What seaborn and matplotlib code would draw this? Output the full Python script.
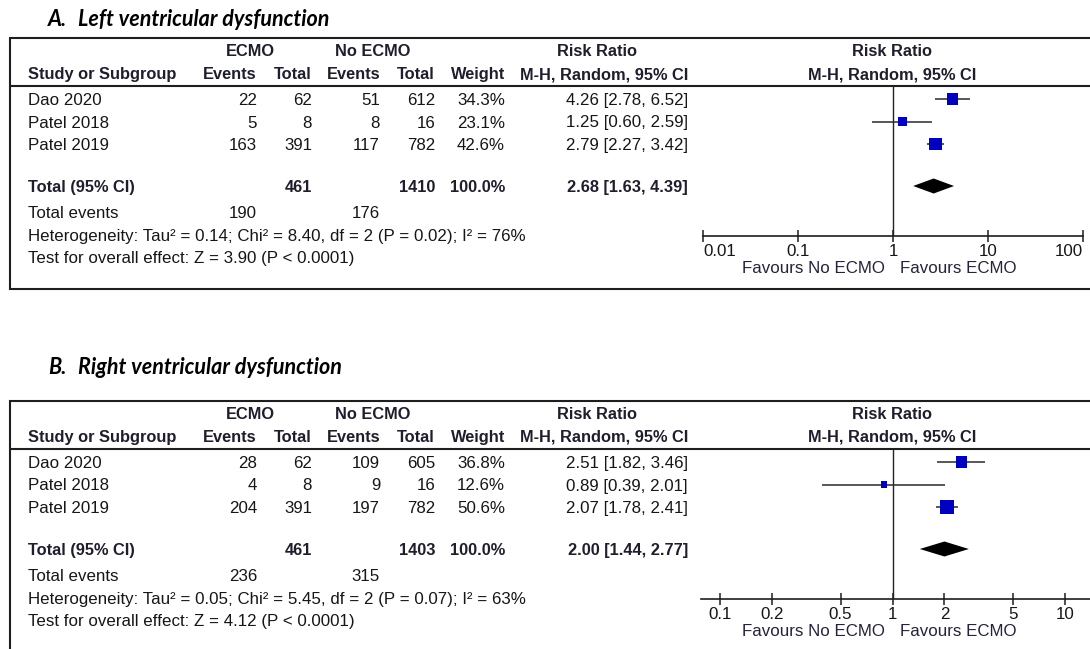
import matplotlib
matplotlib.use('Agg')
import matplotlib.pyplot as plt
import numpy as np
import pandas as pd
import seaborn as sns

sns.set_theme(style='white')
plt.rcParams['font.family'] = ['Liberation Sans', 'DejaVu Sans']

# ---------------- data ----------------
studies = ['Dao 2020', 'Patel 2018', 'Patel 2019']

lv_ecmo_events = [22, 5, 163]
lv_ecmo_total = [62, 8, 391]
lv_no_events = [51, 8, 117]
lv_no_total = [612, 16, 782]
lv_weight = [34.3, 23.1, 42.6]
lv_rr = [4.26, 1.25, 2.79]
lv_lo = [2.78, 0.60, 2.27]
lv_hi = [6.52, 2.59, 3.42]
lv_pooled = [2.68, 1.63, 4.39]
lv_sum_totals = [461, 1410]
lv_sum_events = [190, 176]
lv_het = 'Heterogeneity: Tau² = 0.14; Chi² = 8.40, df = 2 (P = 0.02); I² = 76%'
lv_test = 'Test for overall effect: Z = 3.90 (P < 0.0001)'
lv_ticks = [0.01, 0.1, 1, 10, 100]
lv_ticklabels = ['0.01', '0.1', '1', '10', '100']

rv_ecmo_events = [28, 4, 204]
rv_ecmo_total = [62, 8, 391]
rv_no_events = [109, 9, 197]
rv_no_total = [605, 16, 782]
rv_weight = [36.8, 12.6, 50.6]
rv_rr = [2.51, 0.89, 2.07]
rv_lo = [1.82, 0.39, 1.78]
rv_hi = [3.46, 2.01, 2.41]
rv_pooled = [2.00, 1.44, 2.77]
rv_sum_totals = [461, 1403]
rv_sum_events = [236, 315]
rv_het = 'Heterogeneity: Tau² = 0.05; Chi² = 5.45, df = 2 (P = 0.07); I² = 63%'
rv_test = 'Test for overall effect: Z = 4.12 (P < 0.0001)'
rv_ticks = [0.1, 0.2, 0.5, 1, 2, 5, 10]
rv_ticklabels = ['0.1', '0.2', '0.5', '1', '2', '5', '10']

# ---------------- layout ----------------
W, H = 1090, 649
fig = plt.figure(figsize=(W / 100, H / 100), dpi=100)
bg = fig.add_axes([0, 0, 1, 1])
bg.set_xlim(0, W)
bg.set_ylim(H, 0)
bg.axis('off')

FS = 12.2      # regular text
FSB = 11.8     # bold header text
TXT = '#161616'
HDR = '#1e1e2c'
LINE = '#1e1e1e'
BASE = 6.0
ROW0 = 99
ROWH = 22.5
TITLE_FONT = ['Lato', 'Open Sans', 'DejaVu Sans']


def t(x, y, s, ha='left', bold=False, color=None):
    bg.text(x, y + BASE, s, ha=ha, va='baseline',
            fontsize=FSB if bold else FS,
            fontweight='bold' if bold else 'normal',
            color=color or (HDR if bold else TXT))


def panel(oy, title_y, letter, title, ee, et, ne, nt, w, rr, lo, hi, pooled,
          sums, sev, het, test, ticks, labels, xlim, ax_x0, ax_x1, edge_labels):
    # title
    for x, s in [(48, letter), (78, title)]:
        bg.text(x, title_y, s, ha='left', va='center', fontsize=15.5,
                fontweight='bold', fontstyle='italic', family=TITLE_FONT,
                color='black')
    # frame
    bg.plot([W, 10, 10, W], [38 + oy, 38 + oy, 289 + oy, 289 + oy],
            color=LINE, lw=1.5, solid_capstyle='butt', solid_joinstyle='miter')
    bg.plot([10, W], [85.5 + oy] * 2, color=LINE, lw=1.5, solid_capstyle='butt')

    # headers
    h1, h2 = 50 + oy, 73 + oy
    t(250, h1, 'ECMO', 'center', True)
    t(373, h1, 'No ECMO', 'center', True)
    t(597, h1, 'Risk Ratio', 'center', True)
    t(892, h1, 'Risk Ratio', 'center', True)
    t(28, h2, 'Study or Subgroup', bold=True)
    t(257, h2, 'Events', 'right', True)
    t(312, h2, 'Total', 'right', True)
    t(380, h2, 'Events', 'right', True)
    t(435, h2, 'Total', 'right', True)
    t(505, h2, 'Weight', 'right', True)
    t(688, h2, 'M-H, Random, 95% CI', 'right', True)
    t(892, h2, 'M-H, Random, 95% CI', 'center', True)

    rows = ROW0 + oy + ROWH * np.arange(len(studies))
    for i, name in enumerate(studies):
        y = rows[i]
        t(28, y, name)
        t(257, y, str(ee[i]), 'right')
        t(312, y, str(et[i]), 'right')
        t(380, y, str(ne[i]), 'right')
        t(435, y, str(nt[i]), 'right')
        t(505, y, f'{w[i]:.1f}%', 'right')
        t(688, y, f'{rr[i]:.2f} [{lo[i]:.2f}, {hi[i]:.2f}]', 'right')

    ytot = 186 + oy
    t(28, ytot, 'Total (95% CI)', bold=True)
    t(312, ytot, str(sums[0]), 'right', True)
    t(435, ytot, str(sums[1]), 'right', True)
    t(505, ytot, '100.0%', 'right', True)
    t(688, ytot, f'{pooled[0]:.2f} [{pooled[1]:.2f}, {pooled[2]:.2f}]', 'right', True)

    yev = 212 + oy
    t(28, yev, 'Total events')
    t(257, yev, str(sev[0]), 'right')
    t(380, yev, str(sev[1]), 'right')
    t(28, 235 + oy, het)
    t(28, 257 + oy, test)

    t(885, 267 + oy, 'Favours No ECMO', 'right', color='#23233d')
    t(900, 267 + oy, 'Favours ECMO', 'left', color='#23233d')

    # forest plot
    ax_top, ax_bot = 85.5 + oy, 236 + oy
    ax = fig.add_axes([ax_x0 / W, 1 - ax_bot / H, (ax_x1 - ax_x0) / W,
                       (ax_bot - ax_top) / H])
    ax.set_facecolor('none')
    ax.set_xscale('log')
    ax.set_xlim(*xlim)
    ax.set_ylim(ax_bot, ax_top)
    ax.axvline(1, color='#222222', lw=1.0, zorder=1)
    ax.hlines(rows, lo, hi, color='#2a2a2a', lw=1.1, zorder=2)
    side = 3.8 + 0.21 * np.array(w)
    df = pd.DataFrame({'rr': rr, 'y': rows})
    sns.scatterplot(data=df, x='rr', y='y', marker='s', s=(side * 0.72) ** 2,
                    color='#0000c0', edgecolor='none', linewidth=0, ax=ax,
                    legend=False, zorder=3)
    est, plo, phi = pooled
    ax.fill([plo, est, phi, est], [ytot, ytot - 7.5, ytot, ytot + 7.5],
            color='black', lw=0, zorder=3)
    for sp in ['top', 'left', 'right']:
        ax.spines[sp].set_visible(False)
    ax.spines['bottom'].set_color(LINE)
    ax.spines['bottom'].set_linewidth(1.2)
    ax.set_xticks(ticks)
    ax.set_xticklabels(labels)
    ax.minorticks_off()
    ax.tick_params(axis='x', direction='inout', length=8, width=1.1,
                   color=LINE, labelsize=FS, labelcolor=TXT, pad=2, bottom=True)
    ax.tick_params(axis='y', left=False, labelleft=False)
    ax.set_xlabel('')
    ax.set_ylabel('')
    ax.grid(False)
    if edge_labels:
        labs = ax.get_xticklabels()
        labs[0].set_ha('left')
        labs[-1].set_ha('right')


panel(0, 19, 'A.', 'Left ventricular dysfunction',
      lv_ecmo_events, lv_ecmo_total, lv_no_events, lv_no_total, lv_weight,
      lv_rr, lv_lo, lv_hi, lv_pooled, lv_sum_totals, lv_sum_events,
      lv_het, lv_test, lv_ticks, lv_ticklabels, (0.01, 100), 703, 1083, True)

panel(363, 367, 'B.', 'Right ventricular dysfunction',
      rv_ecmo_events, rv_ecmo_total, rv_no_events, rv_no_total, rv_weight,
      rv_rr, rv_lo, rv_hi, rv_pooled, rv_sum_totals, rv_sum_events,
      rv_het, rv_test, rv_ticks, rv_ticklabels, (0.0776, 13.96), 701, 1090, False)

fig.savefig('out.png', dpi=100)
